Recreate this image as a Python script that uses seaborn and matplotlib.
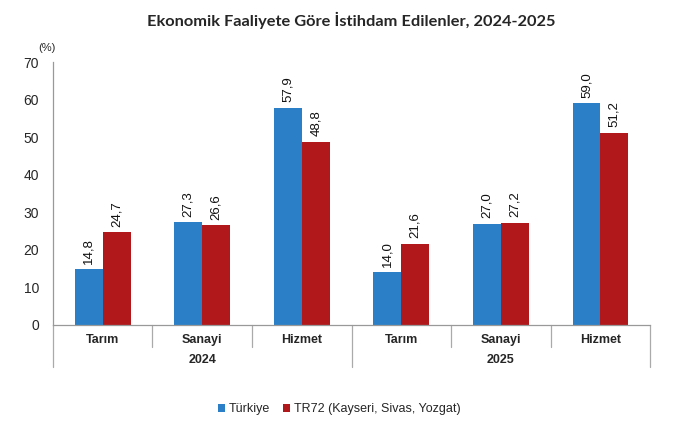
import pandas as pd
import matplotlib.pyplot as plt
import seaborn as sns

# chart values
years = ["2024", "2025"]
sectors = ["Tarım", "Sanayi", "Hizmet"]
series = ["Türkiye", "TR72 (Kayseri, Sivas, Yozgat)"]
turkiye = [14.8, 27.3, 57.9, 14.0, 27.0, 59.0]
tr72 = [24.7, 26.6, 48.8, 21.6, 27.2, 51.2]
colors = ["#2a7fc6", "#b0181b"]

# long table for seaborn
slots = [f"{y} {s}" for y in years for s in sectors]
df = pd.DataFrame({
    "slot": slots * 2,
    "seri": [series[0]] * 6 + [series[1]] * 6,
    "deger": turkiye + tr72,
})

sns.set_style("white")
plt.rcParams["font.family"] = ["Liberation Sans", "DejaVu Sans"]

fig = plt.figure(figsize=(6.78, 4.28), dpi=100)
ax = fig.add_axes([0.078, 0.2407, 0.881, 0.6143])

sns.barplot(data=df, x="slot", y="deger", hue="seri", order=slots, hue_order=series,
            palette=colors, width=0.56, gap=0, saturation=1, edgecolor="none",
            errorbar=None, ax=ax)

for cont in ax.containers:
    ax.bar_label(cont, labels=[f"{v:.1f}".replace(".", ",") for v in cont.datavalues],
                 rotation=90, padding=4, fontsize=9.5, color="#111111")

ax.set_ylim(0, 70)
ax.set_xlim(-0.5, 5.5)
ax.set_yticks(range(0, 71, 10))
ax.tick_params(axis="y", labelsize=10, length=4, color="#888888", width=0.8, pad=6)
ax.set_xticks([])
ax.set_xlabel("")
ax.set_ylabel("")
sns.despine(ax=ax, top=True, right=True)
for sp in ["left", "bottom"]:
    ax.spines[sp].set_color("#999999")
    ax.spines[sp].set_linewidth(0.9)

# two-level x axis
trans = ax.get_xaxis_transform()
for b in [-0.5, 0.5, 1.5, 2.5, 3.5, 4.5, 5.5]:
    low = -0.16 if b in (-0.5, 2.5, 5.5) else -0.084
    ax.plot([b, b], [0, low], transform=trans, color="#aaaaaa", lw=0.9, clip_on=False)
for i, s in enumerate(sectors * 2):
    ax.text(i, -0.057, s, transform=trans, ha="center", va="center",
            fontsize=9, fontweight="bold")
for j, y in enumerate(years):
    ax.text(1 + 3 * j, -0.133, y, transform=trans, ha="center", va="center",
            fontsize=9, fontweight="bold")

ax.text(-0.01, 1.035, "(%)", transform=ax.transAxes, ha="center", va="bottom", fontsize=8)

fig.text(0.518, 0.953, "Ekonomik Faaliyete Göre İstihdam Edilenler, 2024-2025",
         ha="center", va="center", fontsize=11.8, fontweight="bold", family=["Lato", "DejaVu Sans"])

handles, labels = ax.get_legend_handles_labels()
ax.get_legend().remove()
fig.legend(handles, labels, loc="center", bbox_to_anchor=(0.5, 0.044), ncol=2,
           frameon=False, fontsize=9, handlelength=0.6, handleheight=0.6,
           handletextpad=0.3, columnspacing=1.0)

fig.savefig("out.png", dpi=100)
